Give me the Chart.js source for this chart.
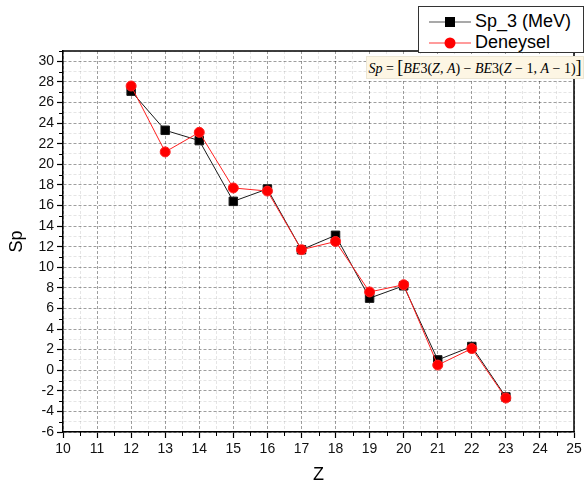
<!DOCTYPE html>
<html>
<head>
<meta charset="utf-8">
<script src="https://cdn.jsdelivr.net/npm/chart.js@4"></script>
<style>
  body { margin: 0; background: #fff; }
  #wrap { position: relative; width: 585px; height: 490px; }
  #legend {
    position: absolute; left: 418px; top: 6px; width: 164px; height: 45px;
    border: 1px solid #333; background: #fff;
    font-family: Arial, "Liberation Sans", sans-serif; font-size: 18px; color: #000;
  }
  #legend .row { position: absolute; left: 0; height: 20px; }
  #legend svg { position: absolute; left: 10px; top: 0; }
  #legend span { position: absolute; left: 56px; top: -1px; white-space: nowrap; line-height: 20px; }
  #formula {
    position: absolute; left: 366px; top: 56px; width: 216px; height: 21px;
    background: #fdf6e4; border: 1px solid #ece6d4;
    font-family: "Liberation Serif", "DejaVu Serif", serif; font-size: 14px; color: #000;
    line-height: 21px; white-space: nowrap; text-align: center;
  }
  #formula .br { font-size: 18px; font-style: normal; }
</style>
</head>
<body>
<div id="wrap">
  <canvas id="chart" width="585" height="490"></canvas>
  <div id="formula"><i>Sp</i> = <span class="br">[</span><i>BE</i>3(<i>Z</i>, <i>A</i>) − <i>BE</i>3(<i>Z</i> − 1, <i>A</i> − 1)<span class="br">]</span></div>
  <div id="legend">
    <div class="row" style="top:5px">
      <svg width="44" height="20"><line x1="0" y1="10" x2="42" y2="10" stroke="#8c8c8c" stroke-width="1.5"/><rect x="16" y="5" width="10" height="10" fill="#000"/></svg>
      <span>Sp_3 (MeV)</span>
    </div>
    <div class="row" style="top:26px">
      <svg width="44" height="20"><line x1="0" y1="10" x2="42" y2="10" stroke="#ff7a7a" stroke-width="1.5"/><circle cx="21" cy="10" r="5.5" fill="#ff0000"/></svg>
      <span>Deneysel</span>
    </div>
  </div>
</div>
<script>
// values
const zValues = [12, 13, 14, 15, 16, 17, 18, 19, 20, 21, 22, 23];
const sp3Values = [27.1, 23.3, 22.3, 16.4, 17.6, 11.7, 13.1, 7.0, 8.2, 1.0, 2.3, -2.6];
const deneyselValues = [27.6, 21.2, 23.1, 17.7, 17.4, 11.7, 12.5, 7.6, 8.3, 0.5, 2.1, -2.7];

const xMin = 10, xMax = 25;
const yMin = -6, yMax = 31;

const FONT = 'Arial, "Liberation Sans", sans-serif';

const toPoints = vals => zValues.map((z, i) => ({ x: z, y: vals[i] }));

const isMajorX = v => Math.abs(v - Math.round(v)) < 1e-6;
const isMajorY = v => Math.abs(v % 2) < 1e-6;

// top/right frame + short minor ticks
const framePlugin = {
  id: "frame",
  afterDraw(chart) {
    const { ctx, chartArea: a, scales } = chart;
    ctx.save();
    ctx.strokeStyle = "#000";
    ctx.lineWidth = 1.5;
    ctx.beginPath();
    ctx.moveTo(a.left, a.top);
    ctx.lineTo(a.right, a.top);
    ctx.lineTo(a.right, a.bottom);
    ctx.stroke();

    ctx.lineWidth = 1;
    ctx.beginPath();
    scales.x.ticks.forEach(t => {
      if (isMajorX(t.value)) return;
      const px = Math.round(scales.x.getPixelForValue(t.value)) + 0.5;
      ctx.moveTo(px, a.bottom);
      ctx.lineTo(px, a.bottom + 4);
    });
    scales.y.ticks.forEach(t => {
      if (isMajorY(t.value)) return;
      const py = Math.round(scales.y.getPixelForValue(t.value)) + 0.5;
      ctx.moveTo(a.left, py);
      ctx.lineTo(a.left - 4, py);
    });
    ctx.stroke();
    ctx.restore();
  }
};

new Chart(document.getElementById("chart"), {
  type: "line",
  data: {
    datasets: [
      {
        label: "Sp_3 (MeV)",
        data: toPoints(sp3Values),
        borderColor: "#1a1a1a",
        backgroundColor: "#000",
        borderWidth: 1,
        pointStyle: "rect",
        pointRadius: 6,
        tension: 0,
        order: 1
      },
      {
        label: "Deneysel",
        data: toPoints(deneyselValues),
        borderColor: "#ff2020",
        backgroundColor: "#ff0000",
        borderWidth: 1,
        pointStyle: "circle",
        pointRadius: 5,
        tension: 0,
        order: 0
      }
    ]
  },
  options: {
    responsive: false,
    animation: false,
    layout: { padding: { top: 51, right: 11, left: 0, bottom: 0 } },
    plugins: { legend: { display: false }, tooltip: { enabled: false } },
    elements: { point: { borderWidth: 0 } },
    scales: {
      x: {
        type: "linear",
        min: xMin,
        max: xMax,
        afterFit: s => { s.height = 58; },
        ticks: {
          stepSize: 0.5,
          autoSkip: false,
          maxRotation: 0,
          padding: 3,
          color: "#111",
          font: { family: FONT, size: 14 },
          callback: v => (isMajorX(v) ? String(Math.round(v)) : "")
        },
        grid: {
          color: c => (isMajorX(c.tick.value) ? "rgba(0,0,0,0.38)" : "rgba(0,0,0,0.10)"),
          lineWidth: 1,
          tickLength: 6,
          tickColor: c => (isMajorX(c.tick.value) ? "#000" : "rgba(0,0,0,0)"),
          tickWidth: 1.2
        },
        border: { color: "#000", width: 1.5, dash: [3, 2] },
        title: {
          display: true,
          text: "Z",
          color: "#000",
          font: { family: FONT, size: 18 },
          padding: { top: 0, bottom: 4 }
        }
      },
      y: {
        type: "linear",
        min: yMin,
        max: yMax,
        afterFit: s => { s.width = 63; },
        ticks: {
          stepSize: 1,
          autoSkip: false,
          padding: 3,
          color: "#111",
          font: { family: FONT, size: 14 },
          callback: v => (isMajorY(v) ? String(v) : "")
        },
        grid: {
          color: c => (isMajorY(c.tick.value) ? "rgba(0,0,0,0.38)" : "rgba(0,0,0,0.10)"),
          lineWidth: 1,
          tickLength: 6,
          tickColor: c => (isMajorY(c.tick.value) ? "#000" : "rgba(0,0,0,0)"),
          tickWidth: 1.2
        },
        border: { color: "#000", width: 1.5, dash: [3, 2] },
        title: {
          display: true,
          text: "Sp",
          color: "#000",
          font: { family: FONT, size: 18 },
          padding: { top: 6, bottom: 0 }
        }
      }
    }
  },
  plugins: [framePlugin]
});
</script>
</body>
</html>
